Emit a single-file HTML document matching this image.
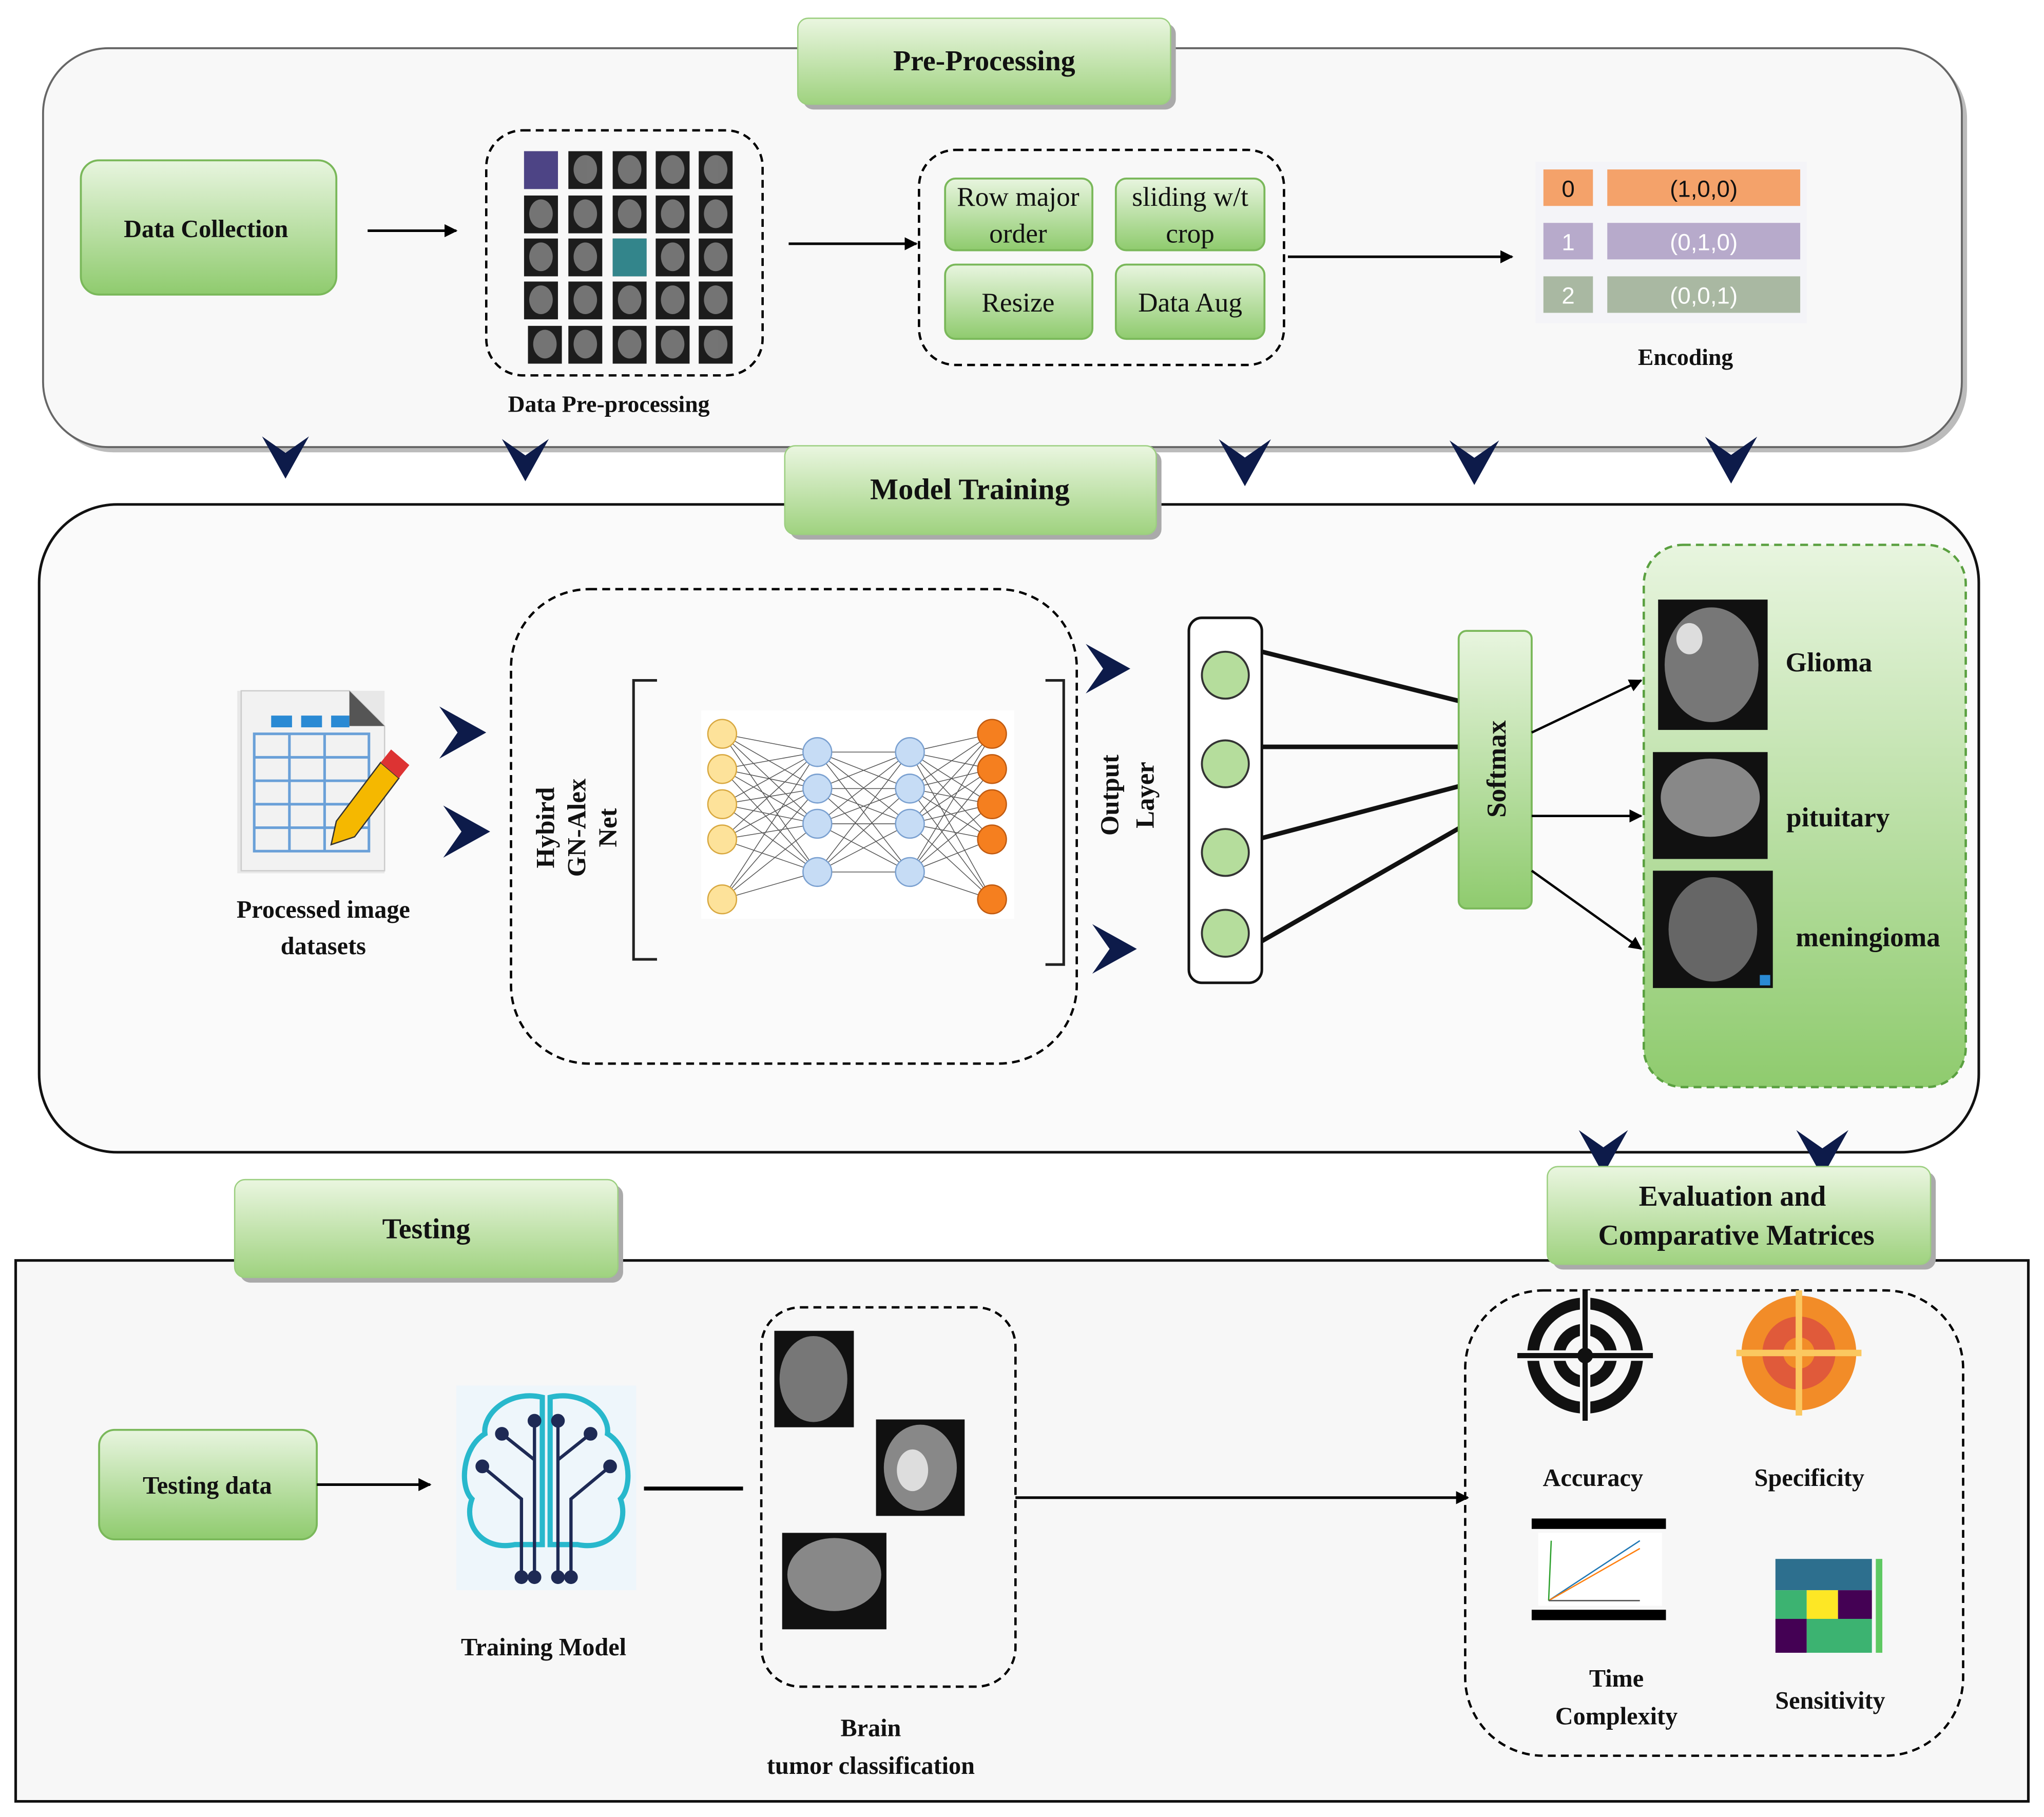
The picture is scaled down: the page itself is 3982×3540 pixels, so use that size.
<!DOCTYPE html>
<html><head><meta charset="utf-8"><style>
html,body{margin:0;padding:0;background:#fff;}
svg{display:block;}
text{font-family:"Liberation Serif",serif;font-weight:bold;fill:#111;}
</style></head><body>
<svg width="3982" height="3540" viewBox="0 0 1568 1394" xmlns="http://www.w3.org/2000/svg">
<defs>
<linearGradient id="g" x1="0" y1="0" x2="0" y2="1"><stop offset="0" stop-color="#eaf6e0"/><stop offset="1" stop-color="#9fd27f"/></linearGradient>
<linearGradient id="gp" x1="0" y1="0" x2="0" y2="1"><stop offset="0" stop-color="#e8f5df"/><stop offset="1" stop-color="#8fcb6e"/></linearGradient>
<marker id="a" markerWidth="10" markerHeight="10" refX="9" refY="5" orient="auto" markerUnits="userSpaceOnUse"><path d="M0,0 L10,5 L0,10 z" fill="#000"/></marker>
<symbol id="chd" viewBox="0 0 40 36"><path d="M0,0 L20,36 L40,0 L20,14 z" fill="#0d1b4a"/></symbol>
<symbol id="chr" viewBox="0 0 36 40"><path d="M0,0 L36,20 L0,40 L14,20 z" fill="#0d1b4a"/></symbol>
</defs>
<rect width="1568" height="1394" fill="#fff"/>

<!-- TOP PANEL -->
<rect x="37" y="41" width="1472" height="306" rx="50" fill="#bbb"/>
<rect x="33" y="37" width="1472" height="306" rx="50" fill="#f8f8f8" stroke="#666" stroke-width="1.5"/>
<rect x="616" y="18" width="286" height="66" rx="8" fill="#aaa"/>
<rect x="612" y="14" width="286" height="66" rx="8" fill="url(#g)" stroke="#9ccf80"/>
<text x="755" y="54" font-size="22" text-anchor="middle">Pre-Processing</text>

<rect x="62" y="123" width="196" height="103" rx="14" fill="url(#gp)" stroke="#7ab85a" stroke-width="1.5"/>
<text x="158" y="182" font-size="19" text-anchor="middle">Data Collection</text>
<line x1="282" y1="177" x2="350" y2="177" stroke="#000" stroke-width="2" marker-end="url(#a)"/>

<rect x="373" y="100" width="212" height="188" rx="28" fill="none" stroke="#000" stroke-width="1.8" stroke-dasharray="6,4"/>
<g fill="#1c1c1c">
<rect x="402" y="116" width="26" height="29"/><rect x="436" y="116" width="26" height="29"/><rect x="470" y="116" width="26" height="29"/><rect x="503" y="116" width="26" height="29"/><rect x="536" y="116" width="26" height="29"/>
<rect x="402" y="150" width="26" height="29"/><rect x="436" y="150" width="26" height="29"/><rect x="470" y="150" width="26" height="29"/><rect x="503" y="150" width="26" height="29"/><rect x="536" y="150" width="26" height="29"/>
<rect x="402" y="183" width="26" height="29"/><rect x="436" y="183" width="26" height="29"/><rect x="470" y="183" width="26" height="29"/><rect x="503" y="183" width="26" height="29"/><rect x="536" y="183" width="26" height="29"/>
<rect x="402" y="216" width="26" height="29"/><rect x="436" y="216" width="26" height="29"/><rect x="470" y="216" width="26" height="29"/><rect x="503" y="216" width="26" height="29"/><rect x="536" y="216" width="26" height="29"/>
<rect x="405" y="250" width="26" height="29"/><rect x="436" y="250" width="26" height="29"/><rect x="470" y="250" width="26" height="29"/><rect x="503" y="250" width="26" height="29"/><rect x="536" y="250" width="26" height="29"/>
</g>
<g fill="#8a8a8a" opacity="0.8">
<ellipse cx="449" cy="130" rx="9" ry="11"/><ellipse cx="483" cy="130" rx="9" ry="11"/><ellipse cx="516" cy="130" rx="9" ry="11"/><ellipse cx="549" cy="130" rx="9" ry="11"/>
<ellipse cx="415" cy="164" rx="9" ry="11"/><ellipse cx="449" cy="164" rx="9" ry="11"/><ellipse cx="483" cy="164" rx="9" ry="11"/><ellipse cx="516" cy="164" rx="9" ry="11"/><ellipse cx="549" cy="164" rx="9" ry="11"/>
<ellipse cx="415" cy="197" rx="9" ry="11"/><ellipse cx="449" cy="197" rx="9" ry="11"/><ellipse cx="516" cy="197" rx="9" ry="11"/><ellipse cx="549" cy="197" rx="9" ry="11"/>
<ellipse cx="415" cy="230" rx="9" ry="11"/><ellipse cx="449" cy="230" rx="9" ry="11"/><ellipse cx="483" cy="230" rx="9" ry="11"/><ellipse cx="516" cy="230" rx="9" ry="11"/><ellipse cx="549" cy="230" rx="9" ry="11"/>
<ellipse cx="418" cy="264" rx="9" ry="11"/><ellipse cx="449" cy="264" rx="9" ry="11"/><ellipse cx="483" cy="264" rx="9" ry="11"/><ellipse cx="516" cy="264" rx="9" ry="11"/><ellipse cx="549" cy="264" rx="9" ry="11"/>
</g>
<rect x="402" y="116" width="26" height="29" fill="#5a4fa0" opacity="0.8"/>
<rect x="470" y="183" width="26" height="29" fill="#3aa0a8" opacity="0.8"/>
<text x="467" y="316" font-size="18" text-anchor="middle">Data Pre-processing</text>

<line x1="605" y1="187" x2="703" y2="187" stroke="#000" stroke-width="2" marker-end="url(#a)"/>
<rect x="705" y="115" width="280" height="165" rx="28" fill="none" stroke="#000" stroke-width="1.8" stroke-dasharray="6,4"/>
<g stroke="#7ab85a" stroke-width="1.5" fill="url(#gp)">
<rect x="725" y="137" width="113" height="55" rx="8"/><rect x="856" y="137" width="114" height="55" rx="8"/>
<rect x="725" y="203" width="113" height="57" rx="8"/><rect x="856" y="203" width="114" height="57" rx="8"/>
</g>
<g font-size="21" text-anchor="middle" style="font-weight:normal">
<text x="781" y="158" style="font-weight:normal">Row major</text><text x="781" y="186" style="font-weight:normal">order</text>
<text x="913" y="158" style="font-weight:normal">sliding w/t</text><text x="913" y="186" style="font-weight:normal">crop</text>
<text x="781" y="239" style="font-weight:normal">Resize</text><text x="913" y="239" style="font-weight:normal">Data Aug</text>
</g>
<line x1="988" y1="197" x2="1160" y2="197" stroke="#000" stroke-width="2" marker-end="url(#a)"/>

<rect x="1178" y="124" width="208" height="124" fill="#f4f4f8"/>
<rect x="1184" y="130" width="38" height="28" fill="#f4a26a"/><rect x="1233" y="130" width="148" height="28" fill="#f4a26a"/>
<rect x="1184" y="171" width="38" height="28" fill="#b7aacb"/><rect x="1233" y="171" width="148" height="28" fill="#b7aacb"/>
<rect x="1184" y="212" width="38" height="28" fill="#a9b8a2"/><rect x="1233" y="212" width="148" height="28" fill="#a9b8a2"/>
<g font-size="18" text-anchor="middle" font-family="Liberation Sans">
<text x="1203" y="151" style="font-family:'Liberation Sans';font-weight:normal">0</text><text x="1307" y="151" style="font-family:'Liberation Sans';font-weight:normal">(1,0,0)</text>
<text x="1203" y="192" style="font-family:'Liberation Sans';font-weight:normal;fill:#fff">1</text><text x="1307" y="192" style="font-family:'Liberation Sans';font-weight:normal;fill:#fff">(0,1,0)</text>
<text x="1203" y="233" style="font-family:'Liberation Sans';font-weight:normal;fill:#fff">2</text><text x="1307" y="233" style="font-family:'Liberation Sans';font-weight:normal;fill:#fff">(0,0,1)</text>
</g>
<text x="1293" y="280" font-size="18" text-anchor="middle">Encoding</text>

<!-- MIDDLE PANEL -->
<rect x="30" y="387" width="1488" height="497" rx="60" fill="#fafafa" stroke="#111" stroke-width="2"/>
<use href="#chd" x="201" y="333" width="36" height="36"/>
<use href="#chd" x="385" y="335" width="36" height="36"/>
<use href="#chd" x="935" y="337" width="40" height="36"/>
<use href="#chd" x="1112" y="337" width="38" height="36"/>
<use href="#chd" x="1306" y="335" width="44" height="36"/>
<rect x="606" y="346" width="285" height="68" rx="8" fill="#aaa"/>
<rect x="602" y="342" width="285" height="68" rx="8" fill="url(#g)" stroke="#9ccf80"/>
<text x="744" y="383" font-size="23" text-anchor="middle">Model Training</text>

<!-- spreadsheet icon -->
<rect x="182" y="530" width="113" height="140" fill="#e8e8e8"/>
<path d="M185,530 L268,530 L295,557 L295,668 L185,668 z" fill="#f2f2f2" stroke="#ccc"/>
<path d="M268,530 L295,557 L268,557 z" fill="#555"/>
<rect x="208" y="549" width="16" height="9" fill="#2a8ad4"/><rect x="231" y="549" width="16" height="9" fill="#2a8ad4"/><rect x="254" y="549" width="14" height="9" fill="#2a8ad4"/>
<g stroke="#6aa0d8" stroke-width="2" fill="none">
<rect x="195" y="563" width="88" height="90"/>
<line x1="195" y1="581" x2="283" y2="581"/><line x1="195" y1="599" x2="283" y2="599"/><line x1="195" y1="617" x2="283" y2="617"/><line x1="195" y1="635" x2="283" y2="635"/>
<line x1="222" y1="563" x2="222" y2="653"/><line x1="249" y1="563" x2="249" y2="653"/>
</g>
<path d="M258,630 L292,585 L306,597 L272,642 L254,648 z" fill="#f5b800" stroke="#333"/>
<path d="M292,585 L300,575 L314,587 L306,597 z" fill="#d33"/>
<text x="248" y="704" font-size="19" text-anchor="middle">Processed image</text>
<text x="248" y="732" font-size="19" text-anchor="middle">datasets</text>
<use href="#chr" x="337" y="542" width="36" height="40"/>
<use href="#chr" x="340" y="618" width="36" height="40"/>

<rect x="392" y="452" width="434" height="364" rx="60" fill="none" stroke="#000" stroke-width="1.8" stroke-dasharray="6,4"/>
<text transform="translate(425,635) rotate(-90)" font-size="20" text-anchor="middle">Hybird</text>
<text transform="translate(449,635) rotate(-90)" font-size="20" text-anchor="middle">GN-Alex</text>
<text transform="translate(473,635) rotate(-90)" font-size="20" text-anchor="middle">Net</text>
<path d="M504,522 L486,522 L486,736 L504,736" fill="none" stroke="#222" stroke-width="2"/>
<path d="M802,522 L816,522 L816,740 L802,740" fill="none" stroke="#222" stroke-width="2"/>
<rect x="538" y="545" width="240" height="160" fill="#fff"/>
<g stroke="#555" stroke-width="0.6">
<path d="M554,563 L627,577 M554,563 L627,605 M554,563 L627,632 M554,563 L627,669 M554,590 L627,577 M554,590 L627,605 M554,590 L627,632 M554,590 L627,669 M554,617 L627,577 M554,617 L627,605 M554,617 L627,632 M554,617 L627,669 M554,644 L627,577 M554,644 L627,605 M554,644 L627,632 M554,644 L627,669 M554,690 L627,577 M554,690 L627,605 M554,690 L627,632 M554,690 L627,669"/>
<path d="M627,577 L698,577 M627,577 L698,605 M627,577 L698,632 M627,577 L698,669 M627,605 L698,577 M627,605 L698,605 M627,605 L698,632 M627,605 L698,669 M627,632 L698,577 M627,632 L698,605 M627,632 L698,632 M627,632 L698,669 M627,669 L698,577 M627,669 L698,605 M627,669 L698,632 M627,669 L698,669"/>
<path d="M698,577 L761,563 M698,577 L761,590 M698,577 L761,617 M698,577 L761,644 M698,577 L761,690 M698,605 L761,563 M698,605 L761,590 M698,605 L761,617 M698,605 L761,644 M698,605 L761,690 M698,632 L761,563 M698,632 L761,590 M698,632 L761,617 M698,632 L761,644 M698,632 L761,690 M698,669 L761,563 M698,669 L761,590 M698,669 L761,617 M698,669 L761,644 M698,669 L761,690"/>
</g>
<g fill="#fde29a" stroke="#d8a840"><circle cx="554" cy="563" r="11"/><circle cx="554" cy="590" r="11"/><circle cx="554" cy="617" r="11"/><circle cx="554" cy="644" r="11"/><circle cx="554" cy="690" r="11"/></g>
<g fill="#c6dcf5" stroke="#7aa0d0"><circle cx="627" cy="577" r="11"/><circle cx="627" cy="605" r="11"/><circle cx="627" cy="632" r="11"/><circle cx="627" cy="669" r="11"/><circle cx="698" cy="577" r="11"/><circle cx="698" cy="605" r="11"/><circle cx="698" cy="632" r="11"/><circle cx="698" cy="669" r="11"/></g>
<g fill="#f57f1f" stroke="#c05a10"><circle cx="761" cy="563" r="11"/><circle cx="761" cy="590" r="11"/><circle cx="761" cy="617" r="11"/><circle cx="761" cy="644" r="11"/><circle cx="761" cy="690" r="11"/></g>

<text transform="translate(858,610) rotate(-90)" font-size="20" text-anchor="middle">Output</text>
<text transform="translate(885,610) rotate(-90)" font-size="20" text-anchor="middle">Layer</text>
<use href="#chr" x="832" y="494" width="36" height="38"/>
<use href="#chr" x="837" y="709" width="36" height="38"/>

<rect x="912" y="474" width="56" height="280" rx="10" fill="#fff" stroke="#111" stroke-width="2"/>
<g fill="#b5dd9c" stroke="#333" stroke-width="1.5"><circle cx="940" cy="518" r="18"/><circle cx="940" cy="586" r="18"/><circle cx="940" cy="654" r="18"/><circle cx="940" cy="716" r="18"/></g>
<g stroke="#111" stroke-width="3.5">
<line x1="968" y1="500" x2="1120" y2="538"/><line x1="968" y1="573" x2="1120" y2="573"/><line x1="968" y1="643" x2="1120" y2="603"/><line x1="968" y1="722" x2="1120" y2="635"/>
</g>
<rect x="1119" y="484" width="56" height="213" rx="6" fill="url(#gp)" stroke="#7ab85a" stroke-width="1.5"/>
<text transform="translate(1155,590) rotate(-90)" font-size="21" text-anchor="middle">Softmax</text>
<g stroke="#000" stroke-width="1.8" marker-end="url(#a)">
<line x1="1175" y1="562" x2="1259" y2="522"/><line x1="1175" y1="626" x2="1259" y2="626"/><line x1="1175" y1="668" x2="1259" y2="728"/>
</g>

<rect x="1261" y="418" width="247" height="416" rx="30" fill="url(#gp)" stroke="#5aa040" stroke-width="1.8" stroke-dasharray="6,4"/>
<rect x="1272" y="460" width="84" height="100" fill="#111"/><ellipse cx="1313" cy="510" rx="36" ry="44" fill="#777"/><ellipse cx="1296" cy="490" rx="10" ry="12" fill="#ddd"/>
<rect x="1268" y="577" width="88" height="82" fill="#111"/><ellipse cx="1312" cy="612" rx="38" ry="30" fill="#888"/>
<rect x="1268" y="668" width="92" height="90" fill="#111"/><ellipse cx="1314" cy="713" rx="34" ry="40" fill="#666"/><rect x="1350" y="748" width="8" height="8" fill="#2a8ad4"/>
<text x="1403" y="515" font-size="21" text-anchor="middle">Glioma</text>
<text x="1410" y="634" font-size="21" text-anchor="middle">pituitary</text>
<text x="1433" y="726" font-size="21" text-anchor="middle">meningioma</text>

<!-- BOTTOM PANEL -->
<rect x="12" y="967" width="1544" height="415" fill="#f7f7f7" stroke="#111" stroke-width="2"/>
<use href="#chd" x="1208" y="867" width="44" height="34"/>
<use href="#chd" x="1378" y="867" width="40" height="36"/>
<rect x="184" y="909" width="294" height="75" rx="8" fill="#aaa"/>
<rect x="180" y="905" width="294" height="75" rx="8" fill="url(#g)" stroke="#9ccf80"/>
<text x="327" y="950" font-size="22" text-anchor="middle">Testing</text>
<rect x="1191" y="899" width="294" height="75" rx="8" fill="#aaa"/>
<rect x="1187" y="895" width="294" height="75" rx="8" fill="url(#g)" stroke="#9ccf80"/>
<text x="1329" y="925" font-size="22" text-anchor="middle">Evaluation and</text>
<text x="1332" y="955" font-size="22" text-anchor="middle">Comparative Matrices</text>

<rect x="76" y="1097" width="167" height="84" rx="12" fill="url(#gp)" stroke="#7ab85a" stroke-width="1.5"/>
<text x="159" y="1146" font-size="19" text-anchor="middle">Testing data</text>
<line x1="243" y1="1139" x2="330" y2="1139" stroke="#000" stroke-width="2" marker-end="url(#a)"/>

<rect x="350" y="1063" width="138" height="157" fill="#eef6fb"/>
<g fill="none" stroke="#28b8cc" stroke-width="4">
<path d="M416,1072 C390,1066 370,1085 372,1100 C355,1110 352,1140 362,1150 C355,1170 370,1190 395,1185 L416,1185 z"/>
<path d="M422,1072 C448,1066 468,1085 466,1100 C483,1110 486,1140 476,1150 C483,1170 468,1190 443,1185 L422,1185 z"/>
</g>
<g stroke="#1e2a55" stroke-width="2.5" fill="#1e2a55">
<path d="M400,1210 L400,1150 L370,1125 M410,1210 L410,1090 M428,1210 L428,1090 M438,1210 L438,1150 L468,1125 M410,1120 L385,1100 M428,1120 L453,1100" fill="none"/>
<circle cx="400" cy="1210" r="4"/><circle cx="410" cy="1210" r="4"/><circle cx="428" cy="1210" r="4"/><circle cx="438" cy="1210" r="4"/>
<circle cx="370" cy="1125" r="4"/><circle cx="468" cy="1125" r="4"/><circle cx="385" cy="1100" r="4"/><circle cx="453" cy="1100" r="4"/><circle cx="410" cy="1090" r="4"/><circle cx="428" cy="1090" r="4"/>
</g>
<text x="417" y="1270" font-size="19" text-anchor="middle">Training Model</text>
<line x1="494" y1="1142" x2="570" y2="1142" stroke="#000" stroke-width="3"/>

<rect x="584" y="1003" width="195" height="291" rx="30" fill="none" stroke="#000" stroke-width="1.8" stroke-dasharray="6,4"/>
<rect x="594" y="1021" width="61" height="74" fill="#111"/><ellipse cx="624" cy="1058" rx="26" ry="33" fill="#777"/>
<rect x="672" y="1089" width="68" height="74" fill="#111"/><ellipse cx="706" cy="1126" rx="28" ry="33" fill="#888"/><ellipse cx="700" cy="1128" rx="12" ry="16" fill="#ddd"/>
<rect x="600" y="1176" width="80" height="74" fill="#111"/><ellipse cx="640" cy="1208" rx="36" ry="28" fill="#888"/>
<text x="668" y="1332" font-size="19" text-anchor="middle">Brain</text>
<text x="668" y="1361" font-size="19" text-anchor="middle">tumor classification</text>
<line x1="779" y1="1149" x2="1126" y2="1149" stroke="#000" stroke-width="2" marker-end="url(#a)"/>

<rect x="1124" y="990" width="382" height="357" rx="60" fill="none" stroke="#000" stroke-width="1.8" stroke-dasharray="6,4"/>
<g fill="none" stroke="#111" stroke-width="9"><circle cx="1216" cy="1040" r="40"/><circle cx="1216" cy="1040" r="20"/></g>
<g stroke="#f7f7f7" stroke-width="8"><line x1="1216" y1="990" x2="1216" y2="1090"/><line x1="1166" y1="1040" x2="1266" y2="1040"/></g>
<g stroke="#111" stroke-width="4"><line x1="1216" y1="990" x2="1216" y2="1090"/><line x1="1164" y1="1040" x2="1268" y2="1040"/></g>
<circle cx="1216" cy="1040" r="6" fill="#111"/>
<circle cx="1380" cy="1038" r="44" fill="#f28c28"/><circle cx="1380" cy="1038" r="28" fill="#e05a3a"/><circle cx="1380" cy="1038" r="12" fill="#f28c28"/>
<g stroke="#fbc860" stroke-width="5"><line x1="1380" y1="990" x2="1380" y2="1086"/><line x1="1332" y1="1038" x2="1428" y2="1038"/></g>
<text x="1222" y="1140" font-size="19" text-anchor="middle">Accuracy</text>
<text x="1388" y="1140" font-size="19" text-anchor="middle">Specificity</text>
<rect x="1175" y="1165" width="103" height="8" fill="#000"/><rect x="1175" y="1235" width="103" height="8" fill="#000"/>
<rect x="1180" y="1176" width="95" height="56" fill="#fff"/>
<g stroke-width="1" fill="none"><path d="M1188,1228 L1258,1182" stroke="#1f77b4"/><path d="M1188,1228 L1258,1188" stroke="#ff7f0e"/><path d="M1188,1228 L1190,1182" stroke="#2ca02c"/><path d="M1188,1228 L1258,1228" stroke="#555"/></g>
<rect x="1362" y="1196" width="74" height="24" fill="#2d6f8e"/><rect x="1362" y="1220" width="24" height="22" fill="#3cb371"/><rect x="1386" y="1220" width="24" height="22" fill="#fde725"/><rect x="1410" y="1220" width="26" height="22" fill="#440154"/>
<rect x="1362" y="1242" width="24" height="26" fill="#440154"/><rect x="1386" y="1242" width="50" height="26" fill="#3cb371"/>
<rect x="1439" y="1196" width="5" height="72" fill="#5ec962"/>
<text x="1240" y="1294" font-size="19" text-anchor="middle">Time</text>
<text x="1240" y="1323" font-size="19" text-anchor="middle">Complexity</text>
<text x="1404" y="1311" font-size="19" text-anchor="middle">Sensitivity</text>
</svg>
</body></html>
